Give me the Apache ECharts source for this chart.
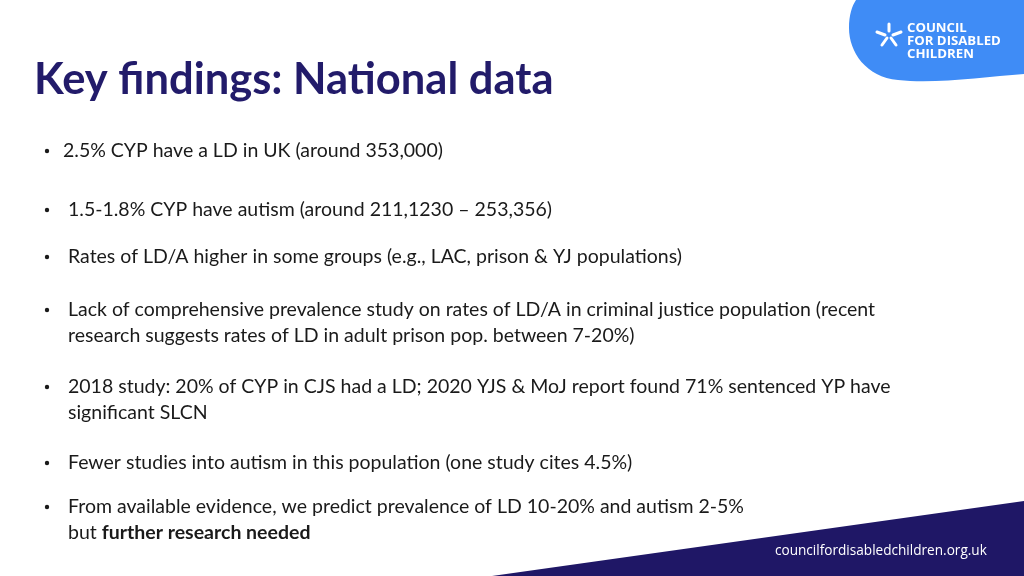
<!DOCTYPE html>
<html>
<head>
<meta charset="utf-8">
<script src="https://cdn.jsdelivr.net/npm/echarts@6/dist/echarts.min.js"></script>
<style>html,body{margin:0;padding:0;background:#fff}#c{width:1024px;height:576px}</style>
</head>
<body>
<div id="c"></div>
<script>
const titleText = 'Key findings: National data';
const bulletLines = [
  ['2.5% CYP have a LD in UK (around 353,000)'],
  [' 1.5-1.8% CYP have autism (around 211,1230 \u2013 253,356)'],
  [' Rates of LD/A higher in some groups (e.g., LAC, prison & YJ populations)'],
  [' Lack of comprehensive prevalence study on rates of LD/A in criminal justice population (recent', ' research suggests rates of LD in adult prison pop. between 7-20%)'],
  [' 2018 study: 20% of CYP in CJS had a LD; 2020 YJS & MoJ report found 71% sentenced YP have', ' significant SLCN'],
  [' Fewer studies into autism in this population (one study cites 4.5%)'],
  [' From available evidence, we predict prevalence of LD 10-20% and autism 2-5%', ' but {b|further research needed}']
];
const bulletY = [151, 210, 257, 310, 387, 463, 507];
const logoLines = ['COUNCIL', 'FOR DISABLED', 'CHILDREN'];
const footerText = 'councilfordisabledchildren.org.uk';

echarts.graphic.registerShape('blob', echarts.graphic.extendPath(
  'M856,0 L1024,0 L1024,74 C985,77 935,84 898,80 C866,77 849,52 849,28 C849,15 852,6 856,0 Z', {}));

const chart = echarts.init(document.getElementById('c'), null, {renderer: 'canvas'});
const FONT = 'Lato';
const FS = 19.5;
const elements = [];

elements.push({type: 'blob', shape: {x: 0, y: 0, width: 1024, height: 576}, style: {fill: '#3f8cf6'}});
const iconSegs = [[889,24,889,31],[877,32,885,35],[901,32,893,35],[887,38,882,45],[891,38,896,45]];
iconSegs.forEach(s => elements.push({type: 'line', shape: {x1: s[0], y1: s[1], x2: s[2], y2: s[3]}, style: {stroke: '#fff', lineWidth: 3, lineCap: 'round'}}));
logoLines.forEach((t, i) => elements.push({type: 'text', x: 907, y: 28 + i * 13, style: {text: t, fill: '#fff', font: 'bold 13.2px "Open Sans"', textVerticalAlign: 'middle'}}));

elements.push({type: 'polygon', shape: {points: [[492,576],[1024,501],[1024,576]]}, style: {fill: '#1f1766'}});
elements.push({type: 'text', x: 775, y: 551, style: {text: footerText, fill: '#fff', font: '13.6px "Open Sans"', textVerticalAlign: 'middle'}});

elements.push({type: 'text', x: 34, y: 80, style: {text: titleText, fill: '#221b6a', font: 'bold 43.5px Lato', textVerticalAlign: 'middle'}});

bulletLines.forEach((lines, i) => {
  elements.push({type: 'circle', shape: {cx: 47, cy: bulletY[i], r: 2.2}, style: {fill: '#1a1a1a'}});
  lines.forEach((ln, j) => {
    elements.push({type: 'text', x: 63, y: bulletY[i] + j * 25.5, style: {
      text: ln, fill: '#1a1a1a', font: FS + 'px ' + FONT, textVerticalAlign: 'middle',
      rich: {b: {fontWeight: 'bold', fontSize: FS, fontFamily: FONT, fill: '#1a1a1a'}}
    }});
  });
});

chart.setOption({backgroundColor: '#fff', graphic: {elements: elements}});
</script>
</body>
</html>
